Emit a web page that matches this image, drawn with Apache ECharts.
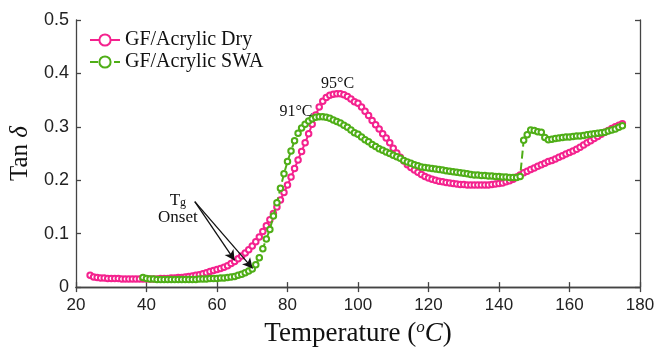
<!DOCTYPE html>
<html><head><meta charset="utf-8">
<script src="https://cdn.jsdelivr.net/npm/echarts@6/dist/echarts.min.js"></script>
<style>html,body{margin:0;padding:0;background:#fff}#c{width:660px;height:352px}</style>
</head><body><div id="c"></div>
<script>
// Temperatures (°C)
const dryTemp = [];
for (let t = 24; t <= 175; t++) dryTemp.push(t);
const swaTemp = [];
for (let t = 39; t <= 175; t++) swaTemp.push(t);

// Tan delta values (1 °C steps)
const dryTan = [
 .022,.019,.018,.017,.017,.016,.016,.016,.016,.015,.015,.015,.015,.015,.015,.015,.015,.015,.015,.015, // 24-43
 .016,.016,.016,.017,.017,.018,.018,.019,.020,.021,.022,.023,.025,.027,.029,.031,.033,.035,.037,.040, // 44-63
 .044,.048,.053,.058,.064,.070,.077,.085,.094,.104,.115,.126,.138,.150,.163,.177,.191,.206,.222,.238, // 64-83
 .254,.270,.287,.305,.322,.337,.348,.355,.359,.361,.362,.362,.360,.357,.352,.347,.344,.337,.329,.321, // 84-103
 .312,.304,.296,.287,.279,.270,.260,.251,.243,.236,.229,.224,.219,.215,.211,.207,.204,.202,.200,.198, // 104-123
 .197,.196,.195,.194,.193,.192,.192,.191,.191,.191,.191,.191,.191,.191,.192,.193,.194,.195,.197,.199, // 124-143
 .202,.206,.210,.214,.217,.220,.223,.226,.229,.232,.235,.237,.240,.243,.246,.249,.252,.255,.258,.262, // 144-163
 .266,.270,.274,.278,.282,.286,.290,.293,.297,.300,.303,.306 // 164-175
];
const swaTan = [
 .018,.016,.015,.015,.014,.014,.014,.014,.014,.014,.014,.014,.014,.014,.014,.014,.015,.015,.015,.016, // 39-58
 .016,.016,.017,.017,.018,.019,.020,.022,.024,.027,.030,.034,.042,.055,.072,.090,.108,.133,.158,.185, // 59-78
 .212,.235,.255,.274,.288,.298,.305,.311,.315,.318,.319,.319,.318,.316,.313,.310,.307,.303,.299,.294, // 79-98
 .289,.286,.281,.276,.272,.267,.263,.259,.256,.253,.250,.247,.244,.241,.237,.234,.232,.229,.227,.225, // 99-118
 .224,.223,.222,.221,.220,.219,.218,.217,.216,.215,.214,.213,.212,.211,.210,.210,.209,.209,.208,.208, // 119-138
 .207,.207,.206,.206,.205,.205,.205,.207,.275,.285,.294,.293,.291,.290,.280,.276,.277,.278,.279,.280, // 139-158
 .281,.281,.282,.283,.283,.284,.285,.286,.287,.288,.289,.290,.292,.294,.296,.299,.302,.306 // 159-175
];

const seriesNames = ['GF/Acrylic Dry', 'GF/Acrylic SWA'];
const xTicks = [20, 40, 60, 80, 100, 120, 140, 160, 180];
const yTicks = [0, 0.1, 0.2, 0.3, 0.4, 0.5];
const peakLabels = [{ t: 94.2, v: 0.381, text: '95°C' }, { t: 82.4, v: 0.328, text: '91°C' }];
const onsetStart = [53.7, 0.160];
const onsetTips = [[65.0, 0.050], [70.1, 0.035]];

const pink = '#f4228e', green = '#4fae17';
const serif = '"Liberation Serif", "Times New Roman", serif';
const sans = '"Liberation Sans", Arial, sans-serif';

const chart = echarts.init(document.getElementById('c'), null, { renderer: 'canvas' });
const pair = (xs, ys) => xs.map((x, i) => [x, ys[i]]);

const axisLine = { show: true, lineStyle: { color: '#444', width: 1.3 } };
const tick = { show: true, inside: true, length: 5, lineStyle: { color: '#444', width: 1.3 } };

chart.setOption({
  animation: false,
  grid: { left: 76, right: 20, top: 20, bottom: 60 },
  legend: {
    left: 84, top: 25, orient: 'vertical', itemGap: 2, itemWidth: 30, itemHeight: 14,
    textStyle: { fontFamily: serif, fontSize: 20, color: '#111' },
    data: seriesNames
  },
  xAxis: [{
    type: 'value', min: 20, max: 180, interval: 20,
    axisLine, axisTick: tick, splitLine: { show: false },
    axisLabel: { fontFamily: sans, fontSize: 17, color: '#222', margin: 10 },
    name: '{n|Temperature (}{i|o}{c|C}{n|)}', nameLocation: 'middle', nameGap: 30,
    nameTextStyle: { rich: {
      n: { fontFamily: serif, fontSize: 27, color: '#111' },
      i: { fontFamily: serif, fontStyle: 'italic', fontSize: 17, color: '#111', verticalAlign: 'top', padding: [0, 0, 12, 0] },
      c: { fontFamily: serif, fontStyle: 'italic', fontSize: 27, color: '#111' }
    } }
  }, {
    type: 'value', position: 'top', min: 20, max: 180, interval: 20,
    axisLine, axisTick: tick, axisLabel: { show: false }, splitLine: { show: false }
  }],
  yAxis: [{
    type: 'value', min: 0, max: 0.5, interval: 0.1,
    axisLine, axisTick: tick, splitLine: { show: false },
    axisLabel: { fontFamily: sans, fontSize: 18, color: '#222', margin: 7,
      formatter: v => (Math.round(v * 10) / 10).toString() },
    name: '{n|Tan }{d|δ}', nameLocation: 'middle', nameGap: 42, nameRotate: 90,
    nameTextStyle: { rich: {
      n: { fontFamily: serif, fontSize: 25, color: '#111' },
      d: { fontFamily: serif, fontStyle: 'italic', fontSize: 25, color: '#111' }
    } }
  }, {
    type: 'value', position: 'right', min: 0, max: 0.5, interval: 0.1,
    axisLine, axisTick: tick, axisLabel: { show: false }, splitLine: { show: false }
  }],
  series: [{
    name: seriesNames[0], type: 'line', data: pair(dryTemp, dryTan),
    symbol: 'emptyCircle', symbolSize: 5.5, showAllSymbol: true,
    color: pink,
    lineStyle: { color: pink, width: 2 },
    itemStyle: { color: pink, borderWidth: 3 },
    z: 2,
    markPoint: {
      symbol: 'circle', symbolSize: 0, silent: true,
      label: { show: true, fontFamily: serif, fontSize: 16, color: '#111', formatter: p => p.data.text },
      data: peakLabels.map(p => ({ coord: [p.t, p.v], text: p.text }))
    }
  }, {
    name: seriesNames[1], type: 'line', data: pair(swaTemp, swaTan),
    symbol: 'emptyCircle', symbolSize: 5.5, showAllSymbol: true,
    color: green,
    lineStyle: { color: green, width: 2, type: 'dashed' },
    itemStyle: { color: green, borderWidth: 3 },
    z: 3,
    markLine: {
      silent: true, symbol: ['none', 'arrow'], symbolSize: [8, 10],
      lineStyle: { color: '#111', width: 1.3, type: 'solid' },
      label: { show: false },
      data: onsetTips.map(tp => [{ coord: onsetStart }, { coord: tp }])
    },
    markPoint: {
      symbol: 'circle', symbolSize: 0, silent: true,
      label: { show: true, formatter: '{n|T}{s|g}\n{n|Onset}', align: 'center', lineHeight: 17,
        rich: { n: { fontFamily: serif, fontSize: 17, color: '#111' },
                s: { fontFamily: serif, fontSize: 12, color: '#111', verticalAlign: 'bottom', padding: [8, 0, 0, 0] } } },
      data: [{ coord: [48.9, 0.147] }]
    }
  }]
});
</script></body></html>
